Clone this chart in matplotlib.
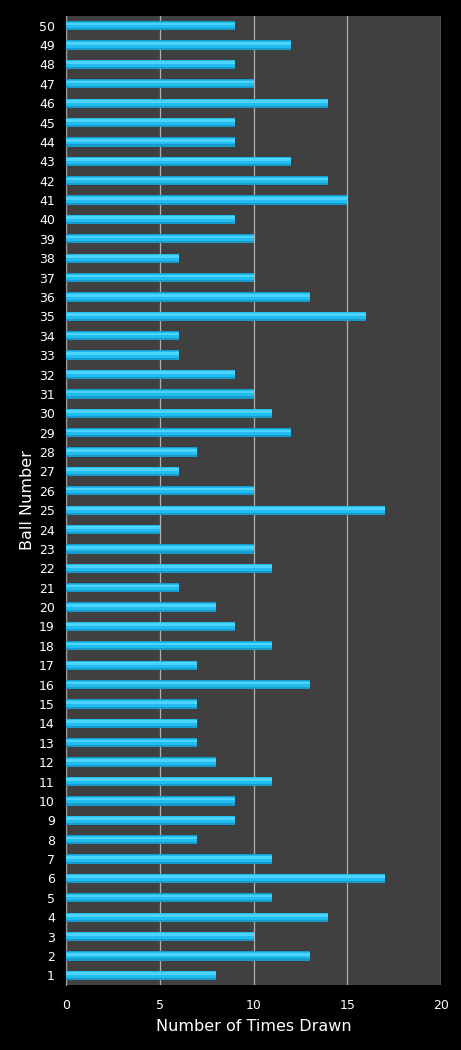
import numpy as np
import matplotlib
matplotlib.use("Agg")
import matplotlib.pyplot as plt

# ball numbers 1..50 and how often each was drawn
balls = list(range(1, 51))
times_drawn = [8, 13, 10, 14, 11, 17, 11, 7, 9, 9,
               11, 8, 7, 7, 7, 13, 7, 11, 9, 8,
               6, 11, 10, 5, 17, 10, 6, 7, 12, 11,
               10, 9, 6, 6, 16, 13, 10, 6, 10, 9,
               15, 14, 12, 9, 9, 14, 10, 9, 12, 9]
x_ticks = [0, 5, 10, 15, 20]

fig = plt.figure(figsize=(4.61, 10.5), dpi=100, facecolor="black")
ax = fig.add_axes([0.1432, 0.0619, 0.8134, 0.9229])
ax.set_facecolor("#404040")

# main bar + lighter upper strip to fake the gradient look
ax.barh(balls, times_drawn, height=0.48, color="#189ccb", zorder=3)
ax.barh(np.array(balls) + 0.04, times_drawn, height=0.34, color="#22bdf0", zorder=4)
ax.barh(np.array(balls) + 0.09, times_drawn, height=0.14, color="#4cd4fc", zorder=5)

ax.set_xlim(0, 20)
ax.set_ylim(0.5, 50.5)
ax.set_xticks(x_ticks)
ax.set_yticks(balls)
ax.grid(axis="x", color="#b0b0b0", linewidth=0.9, zorder=1)
ax.set_axisbelow(True)

for s in ["top", "right", "bottom"]:
    ax.spines[s].set_visible(False)
ax.spines["left"].set_color("#a0a0a0")
ax.tick_params(axis="both", colors="white", labelsize=9, length=0)
ax.tick_params(axis="x", pad=10)
ax.tick_params(axis="y", pad=8)

ax.set_xlabel("Number of Times Drawn", color="white", fontsize=11.5, labelpad=5)
ax.set_ylabel("Ball Number", color="white", fontsize=11.5, labelpad=3)

fig.savefig("out.png", dpi=100, facecolor="black")
